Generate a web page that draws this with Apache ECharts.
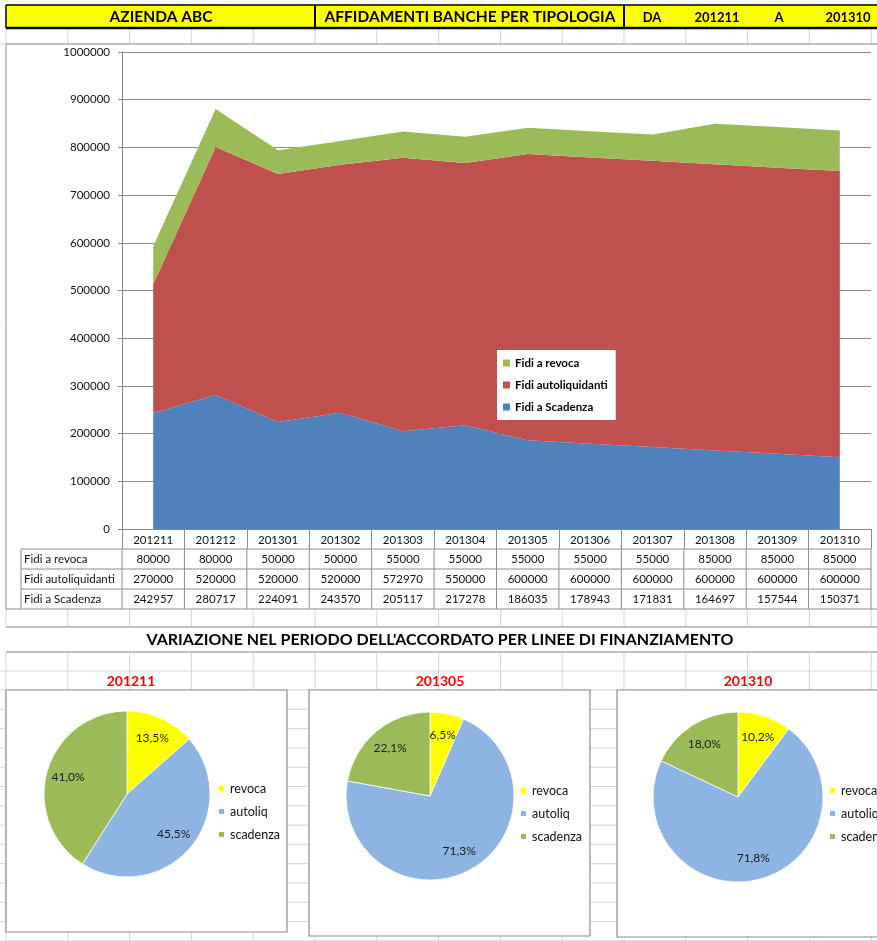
<!DOCTYPE html>
<html>
<head>
<meta charset="utf-8">
<script src="https://cdn.jsdelivr.net/npm/echarts@6/dist/echarts.min.js"></script>
<style>
  html, body { margin: 0; padding: 0; background: #fff; }
  #chart { width: 877px; height: 941px; }
</style>
</head>
<body>
<div id="chart"></div>
<script>
/*----------------------------- Data --------------------*/
var categories = ['201211', '201212', '201301', '201302', '201303', '201304',
  '201305', '201306', '201307', '201308', '201309', '201310'];
var fidiRevoca = [80000, 80000, 50000, 50000, 55000, 55000, 55000, 55000, 55000, 85000, 85000, 85000];
var fidiAutoliquidanti = [270000, 520000, 520000, 520000, 572970, 550000, 600000, 600000, 600000, 600000, 600000, 600000];
var fidiScadenza = [242957, 280717, 224091, 243570, 205117, 217278, 186035, 178943, 171831, 164697, 157544, 150371];
var rowLabels = ['Fidi a revoca', 'Fidi autoliquidanti', 'Fidi a Scadenza'];
var pieMonths = ['201211', '201305', '201310'];
var pieNames = ['revoca', 'autoliq', 'scadenza'];
var yMin = 0, yMax = 1000000, yStep = 100000;

/*----------------------------- Layout --------------------*/
var FONT = 'Lato, "Open Sans", sans-serif';
var plot = { left: 122, top: 52, width: 749, height: 477 };
var band = plot.width / categories.length;
var pieBoxes = [
  { box: [6, 690, 281, 242], center: [127, 794], r: 83, legend: [217, 782], title: 131 },
  { box: [309, 690, 281, 246], center: [430, 796], r: 84, legend: [519, 784], title: 440 },
  { box: [617, 690, 275, 247], center: [738, 797], r: 85, legend: [828, 784], title: 748 }
];
var pieColors = ['#FFFF00', '#8EB4E3', '#9BBB59'];

var g = [];
function line(x1, y1, x2, y2, color, w, z) {
  g.push({ type: 'line', silent: true, z: z, shape: { x1: x1, y1: y1, x2: x2, y2: y2 },
    style: { stroke: color, lineWidth: w } });
}
function rect(x, y, w, h, fill, stroke, lw, z) {
  g.push({ type: 'rect', silent: true, z: z, shape: { x: x, y: y, width: w, height: h },
    style: { fill: fill, stroke: stroke, lineWidth: lw } });
}
function text(x, y, str, font, color, align) {
  g.push({ type: 'text', silent: true, z: 10, x: x, y: y,
    style: { text: str, font: font, fill: color || '#000',
      align: align || 'center', verticalAlign: 'middle',
      textAlign: align || 'center', textVerticalAlign: 'middle' } });
}

// spreadsheet grid behind everything
var gridCol = '#D4D4D4';
var colX = [];
for (var k = 0; k < 15; k++) colX.push(6 + k * 61.8);
colX.forEach(function (x) {
  line(x, 28, x, 44, gridCol, 1, -20);
  line(x, 609, x, 627, gridCol, 1, -20);
  line(x, 652, x, 941, gridCol, 1, -20);
});
[44, 671, 690].forEach(function (y) { line(0, y, 877, y, gridCol, 1, -20); });
for (var y = 709.3; y < 941; y += 19.3) line(0, y, 877, y, gridCol, 1, -20);
line(6, 627, 877, 627, '#BFBFBF', 2, -19);
line(6, 652, 877, 652, '#BFBFBF', 2, -19);

// header
rect(6, 5, 880, 23, '#FFFF00', null, 0, -18);
line(6, 5, 877, 5, '#000', 1.5, -17);
line(6, 28, 877, 28, '#000', 2.5, -17);
line(6, 5, 6, 28, '#000', 1.5, -17);
line(315, 5, 315, 28, '#000', 2, -17);
line(624, 5, 624, 28, '#000', 2, -17);
text(161, 17, 'AZIENDA ABC', 'bold 15.5px ' + FONT);
text(470, 17, 'AFFIDAMENTI BANCHE PER TIPOLOGIA', 'bold 15.5px ' + FONT);
text(652, 18, 'DA', 'bold 13px ' + FONT);
text(717, 18, '201211', 'bold 13px ' + FONT);
text(779, 18, 'A', 'bold 13px ' + FONT);
text(848, 18, '201310', 'bold 13px ' + FONT);

// main chart box
rect(6, 44, 880, 565, '#fff', '#8C8C8C', 1, -10);

// data table under the area chart
var tblCol = '#8C8C8C';
[549, 569, 589].forEach(function (yy) { line(21, yy, plot.left + plot.width, yy, tblCol, 1, 5); });
line(21, 549, 21, 609, tblCol, 1, 5);
for (var c = 0; c <= categories.length; c++) {
  var bx = plot.left + c * band;
  line(bx, 549, bx, 609, tblCol, 1, 5);
}
var tableRows = [fidiRevoca, fidiAutoliquidanti, fidiScadenza];
tableRows.forEach(function (row, r) {
  var cy = 559 + r * 20;
  text(24, cy, rowLabels[r], '11.5px ' + FONT, '#111', 'left');
  row.forEach(function (v, i) {
    text(plot.left + band * (i + 0.5), cy, String(v), '11.5px ' + FONT, '#111');
  });
});

// lower section
text(440, 640, "VARIAZIONE NEL PERIODO DELL'ACCORDATO PER LINEE DI FINANZIAMENTO", 'bold 16px ' + FONT);
pieBoxes.forEach(function (pb, i) {
  rect(pb.box[0], pb.box[1], pb.box[2], pb.box[3], '#fff', '#8C8C8C', 1.2, -10);
  text(pb.title, 681, pieMonths[i], 'bold 14px ' + FONT, '#FF0000');
});

/*----------------------------- Series --------------------*/
function areaSeries(name, data, color) {
  return {
    name: name, type: 'line', stack: 'total', data: data,
    symbol: 'none', lineStyle: { width: 0 }, color: color,
    areaStyle: { opacity: 1, color: color }, emphasis: { disabled: true }
  };
}

function pieSeries(i) {
  var pb = pieBoxes[i];
  var idx = categories.indexOf(pieMonths[i]);
  var vals = [fidiRevoca[idx], fidiAutoliquidanti[idx], fidiScadenza[idx]];
  var tot = vals.reduce(function (a, b) { return a + b; }, 0);
  return {
    type: 'pie', center: pb.center, radius: pb.r, startAngle: 90, clockwise: true,
    data: vals.map(function (v, j) {
      return { name: pieNames[j], value: v, itemStyle: { color: pieColors[j] } };
    }),
    itemStyle: { borderColor: '#fff', borderWidth: 0.8 },
    label: {
      position: 'inside', fontSize: 12, fontFamily: FONT, color: '#1a1a1a',
      formatter: function (p) { return (p.value / tot * 100).toFixed(1).replace('.', ',') + '%'; }
    },
    labelLine: { show: false },
    labelLayout: function (p) {
      var start = 0;
      for (var j = 0; j < p.dataIndex; j++) start += vals[j];
      var mid = (start + vals[p.dataIndex] / 2) / tot * Math.PI * 2;
      return {
        x: pb.center[0] + 0.74 * pb.r * Math.sin(mid),
        y: pb.center[1] - 0.74 * pb.r * Math.cos(mid),
        align: 'center', verticalAlign: 'middle'
      };
    },
    emphasis: { disabled: true }
  };
}

var legends = [{
  data: rowLabels, orient: 'vertical', left: 497, top: 350, selectedMode: false,
  backgroundColor: '#fff', padding: [7, 8, 7, 6], itemWidth: 7, itemHeight: 7, itemGap: 10,
  icon: 'rect', textStyle: { fontSize: 11.5, fontWeight: 'bold', color: '#000', fontFamily: FONT }
}];
pieBoxes.forEach(function (pb) {
  legends.push({
    data: pieNames, orient: 'vertical', left: pb.legend[0], top: pb.legend[1], selectedMode: false,
    padding: 0, itemWidth: 7, itemHeight: 7, itemGap: 10, icon: 'rect',
    textStyle: { fontSize: 12.5, color: '#111', fontFamily: FONT }
  });
});

var chart = echarts.init(document.getElementById('chart'));
chart.setOption({
  animation: false,
  backgroundColor: '#fff',
  graphic: g,
  legend: legends,
  grid: { left: plot.left, top: plot.top, width: plot.width, height: plot.height },
  xAxis: {
    type: 'category', data: categories, boundaryGap: true,
    axisLine: { lineStyle: { color: '#868686' } },
    axisTick: { show: true, length: 20, lineStyle: { color: '#8C8C8C' } },
    axisLabel: { margin: 5, fontSize: 11.5, color: '#111', fontFamily: FONT }
  },
  yAxis: {
    type: 'value', min: yMin, max: yMax, interval: yStep,
    axisLine: { show: true, lineStyle: { color: '#868686' } },
    axisTick: { show: true, length: 4, lineStyle: { color: '#868686' } },
    axisLabel: { margin: 12, fontSize: 11.5, color: '#111', fontFamily: FONT,
      formatter: function (v) { return String(v); } },
    splitLine: { lineStyle: { color: '#8C8C8C' } }
  },
  series: [
    areaSeries('Fidi a Scadenza', fidiScadenza, '#4F81BD'),
    areaSeries('Fidi autoliquidanti', fidiAutoliquidanti, '#C0504D'),
    areaSeries('Fidi a revoca', fidiRevoca, '#9BBB59'),
    pieSeries(0), pieSeries(1), pieSeries(2)
  ]
});
</script>
</body>
</html>
